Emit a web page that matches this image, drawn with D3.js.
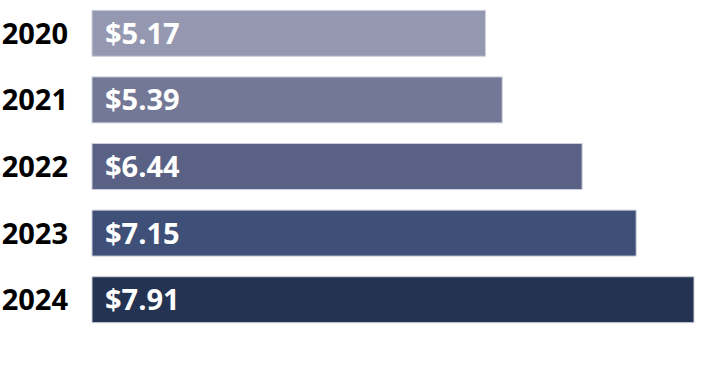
<!DOCTYPE html>
<html>
<head>
<meta charset="utf-8">
<script src="https://cdn.jsdelivr.net/npm/d3@7"></script>
<style>
  html, body { margin: 0; padding: 0; background: #fff; }
  svg { display: block; }
</style>
</head>
<body>
<div id="chart"></div>
<script>
const years = ["2020", "2021", "2022", "2023", "2024"];
const values = [5.17, 5.39, 6.44, 7.15, 7.91];
const colors = ["#9598b1", "#737896", "#596285", "#3e5078", "#243352"];

const width = 701, height = 365;
const margin = {left: 92, top: 0};
const fmt = d => "$" + d.toFixed(2);

const svg = d3.select("#chart").append("svg")
    .attr("width", width)
    .attr("height", height);

// x: 0 sits at the bar start, 7.91 ends near the right edge
const x = d3.scaleLinear()
    .domain([0, 7.91])
    .range([margin.left, 694]);

const y = d3.scaleBand()
    .domain(years)
    .range([0, 333])
    .paddingInner(0.31)
    .paddingOuter(0.155);

const data = years.map((yr, i) => ({year: yr, value: values[i], color: colors[i]}));

svg.selectAll("rect.bar")
  .data(data)
  .join("rect")
    .attr("class", "bar")
    .attr("x", x(0))
    .attr("y", d => y(d.year))
    .attr("width", d => x(d.value) - x(0))
    .attr("height", y.bandwidth())
    .attr("fill", d => d.color)
    .attr("stroke", "#cdd0dc")
    .attr("stroke-width", 1);

svg.selectAll("text.val")
  .data(data)
  .join("text")
    .attr("class", "val")
    .attr("x", x(0) + 13)
    .attr("y", d => y(d.year) + y.bandwidth() / 2)
    .attr("dy", "0.36em")
    .attr("fill", "#fff")
    .style("font-family", "'Open Sans', sans-serif")
    .style("font-weight", 700)
    .style("font-size", "29px")
    .text(d => fmt(d.value));

// year labels via a left axis with no line or ticks
const axis = svg.append("g")
    .attr("transform", `translate(${x(0)},0)`)
    .call(d3.axisLeft(y).tickSize(0).tickPadding(24));

axis.select(".domain").remove();
axis.selectAll("text")
    .attr("fill", "#000")
    .attr("dy", "0.36em")
    .style("font-family", "'Open Sans', sans-serif")
    .style("font-weight", 700)
    .style("font-size", "29px");
</script>
</body>
</html>
